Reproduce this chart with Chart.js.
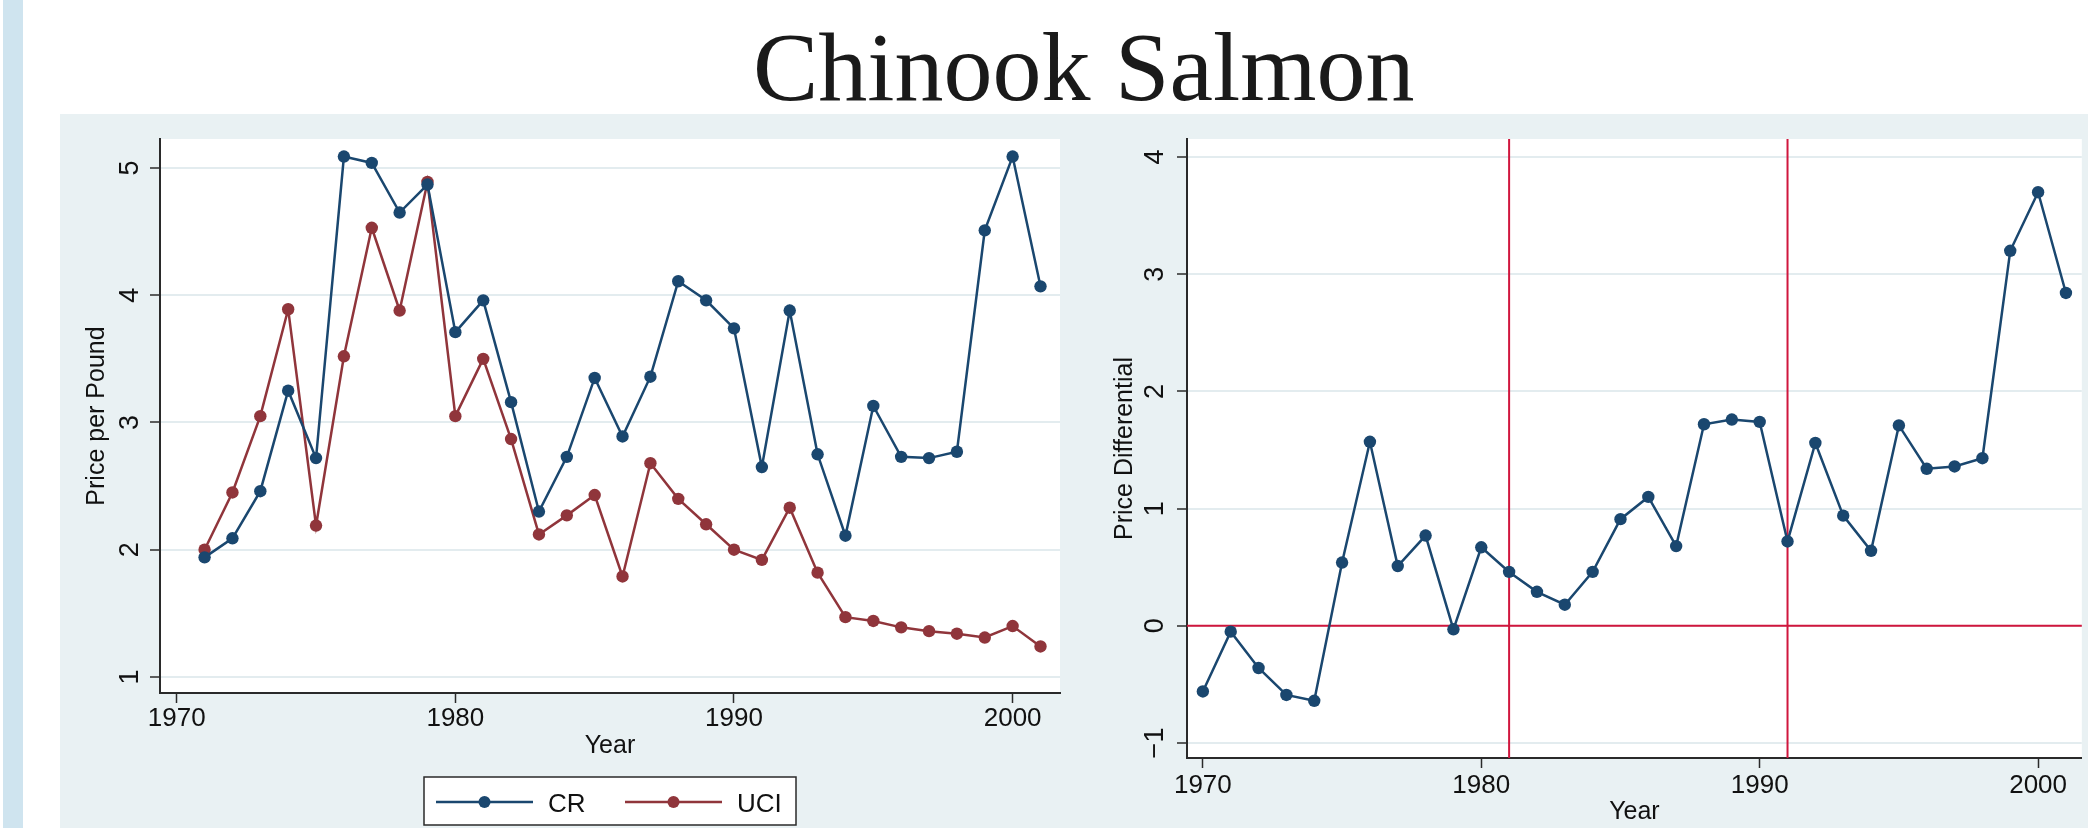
<!DOCTYPE html>
<html>
<head>
<meta charset="utf-8">
<title>Chinook Salmon</title>
<script src="https://cdn.jsdelivr.net/npm/chart.js@4.4.1/dist/chart.umd.min.js"></script>
<style>
  html, body { margin: 0; padding: 0; background: #fff; }
  body { width: 2088px; height: 828px; position: relative; overflow: hidden; }
  #strip { position: absolute; left: 3px; top: 0; width: 20px; height: 828px; background: #cfe4ef; }
  #title {
    position: absolute; left: 753px; top: 18px;
    font-family: "Liberation Serif", "Times New Roman", serif;
    font-size: 98px; line-height: 98px; color: #1a1a1a; white-space: nowrap;
  }
  #panel { position: absolute; left: 60px; top: 114px; width: 2028px; height: 714px; background: #e9f1f3; }
  canvas { position: absolute; top: 114px; }
  #priceChart { left: 60px; }
  #diffChart { left: 1095px; }
</style>
</head>
<body>
<div id="strip"></div>
<div id="title">Chinook Salmon</div>
<div id="panel"></div>
<canvas id="priceChart" width="1035" height="714"></canvas>
<canvas id="diffChart" width="993" height="714"></canvas>
<script>
// left panel: price per pound, 1971-2001
const priceYears = [1971, 1972, 1973, 1974, 1975, 1976, 1977, 1978, 1979, 1980,
  1981, 1982, 1983, 1984, 1985, 1986, 1987, 1988, 1989, 1990,
  1991, 1992, 1993, 1994, 1995, 1996, 1997, 1998, 1999, 2000, 2001];
const crPrice = [1.94, 2.09, 2.46, 3.25, 2.72, 5.09, 5.04, 4.65, 4.87, 3.71,
  3.96, 3.16, 2.30, 2.73, 3.35, 2.89, 3.36, 4.11, 3.96, 3.74,
  2.65, 3.88, 2.75, 2.11, 3.13, 2.73, 2.72, 2.77, 4.51, 5.09, 4.07];
const uciPrice = [2.00, 2.45, 3.05, 3.89, 2.19, 3.52, 4.53, 3.88, 4.89, 3.05,
  3.50, 2.87, 2.12, 2.27, 2.43, 1.79, 2.68, 2.40, 2.20, 2.00,
  1.92, 2.33, 1.82, 1.47, 1.44, 1.39, 1.36, 1.34, 1.31, 1.40, 1.24];

// right panel: price differential, 1970-2001
const diffYears = [1970, 1971, 1972, 1973, 1974, 1975, 1976, 1977, 1978, 1979,
  1980, 1981, 1982, 1983, 1984, 1985, 1986, 1987, 1988, 1989,
  1990, 1991, 1992, 1993, 1994, 1995, 1996, 1997, 1998, 1999, 2000, 2001];
const priceDiff = [-0.56, -0.05, -0.36, -0.59, -0.64, 0.54, 1.57, 0.51, 0.77, -0.03,
  0.67, 0.46, 0.29, 0.18, 0.46, 0.91, 1.10, 0.68, 1.72, 1.76,
  1.74, 0.72, 1.56, 0.94, 0.64, 1.71, 1.34, 1.36, 1.43, 3.20, 3.70, 2.84];

const yearTicks = [1970, 1980, 1990, 2000];
const priceTicks = [1, 2, 3, 4, 5];
const diffTicks = [-1, 0, 1, 2, 3, 4];
const refYears = [1981, 1991];
const refLevels = [0];

const navy = '#1a476f';
const maroon = '#90353b';
const refRed = '#d0163d';
const gridColor = '#e3ecef';
const axisColor = '#2a2a2a';
const textColor = '#111';
const family = '"Liberation Sans", Arial, sans-serif';

const toPoints = (xs, ys) => xs.map((x, i) => ({ x: x, y: ys[i] }));
const setTicks = values => scale => { scale.ticks = values.map(v => ({ value: v })); };
const fmt = v => (v < 0 ? '\u2212' + Math.abs(v) : String(v));

// white plot region on the grey graph region
const plotBg = {
  id: 'plotBg',
  beforeDraw(chart) {
    const { ctx, chartArea: a } = chart;
    ctx.save();
    ctx.fillStyle = '#fff';
    ctx.fillRect(a.left, a.top, a.right - a.left, a.bottom - a.top);
    ctx.restore();
  }
};

// stata style vertical y labels, centred on the tick
const yLabels = {
  id: 'yLabels',
  afterDraw(chart, args, opts) {
    const { ctx } = chart;
    const y = chart.scales.y;
    ctx.save();
    ctx.font = opts.size + 'px ' + family;
    ctx.fillStyle = textColor;
    ctx.textAlign = 'center';
    ctx.textBaseline = 'alphabetic';
    y.ticks.forEach(t => {
      ctx.save();
      ctx.translate(y.right - opts.gap, y.getPixelForValue(t.value));
      ctx.rotate(-Math.PI / 2);
      ctx.fillText(fmt(t.value), 0, 0);
      ctx.restore();
    });
    ctx.restore();
  }
};

const refLines = {
  id: 'refLines',
  beforeDatasetsDraw(chart, args, opts) {
    if (!opts.xs) return;
    const { ctx, chartArea: a } = chart;
    const { x, y } = chart.scales;
    ctx.save();
    ctx.strokeStyle = opts.color;
    ctx.lineWidth = opts.width;
    ctx.beginPath();
    opts.xs.forEach(v => {
      const px = x.getPixelForValue(v);
      ctx.moveTo(px, a.top);
      ctx.lineTo(px, a.bottom);
    });
    opts.ys.forEach(v => {
      const py = y.getPixelForValue(v);
      ctx.moveTo(a.left, py);
      ctx.lineTo(a.right, py);
    });
    ctx.stroke();
    ctx.restore();
  }
};

// boxed legend under the left plot: line with a marker in the middle
const stataLegend = {
  id: 'stataLegend',
  afterDraw(chart, args, opts) {
    if (!opts.show) return;
    const { ctx, chartArea: a } = chart;
    const w = 372, h = 48;
    const left = (a.left + a.right) / 2 - w / 2;
    const top = a.bottom + opts.offset;
    ctx.save();
    ctx.fillStyle = '#fff';
    ctx.fillRect(left, top, w, h);
    ctx.strokeStyle = axisColor;
    ctx.lineWidth = 1.5;
    ctx.strokeRect(left, top, w, h);
    const cy = top + 25;
    chart.data.datasets.forEach((ds, i) => {
      const x0 = left + 12 + i * 189;
      ctx.strokeStyle = ds.borderColor;
      ctx.lineWidth = 2.4;
      ctx.beginPath();
      ctx.moveTo(x0, cy);
      ctx.lineTo(x0 + 97, cy);
      ctx.stroke();
      ctx.fillStyle = ds.borderColor;
      ctx.beginPath();
      ctx.arc(x0 + 48.5, cy, 6, 0, Math.PI * 2);
      ctx.fill();
      ctx.fillStyle = textColor;
      ctx.font = '26px ' + family;
      ctx.textAlign = 'left';
      ctx.textBaseline = 'alphabetic';
      ctx.fillText(ds.label, x0 + 112, top + 35);
    });
    ctx.restore();
  }
};

function series(label, color, xs, ys) {
  return {
    label: label,
    data: toPoints(xs, ys),
    borderColor: color,
    backgroundColor: color,
    borderWidth: 2.5,
    pointRadius: 6.2,
    pointBorderWidth: 0,
    pointBackgroundColor: color,
    tension: 0
  };
}

function makeOptions(cfg) {
  return {
    responsive: false,
    animation: false,
    devicePixelRatio: 1,
    layout: { padding: { top: 25, right: cfg.padRight, left: 0, bottom: 0 } },
    plugins: {
      legend: { display: false },
      tooltip: { enabled: false },
      yLabels: { gap: cfg.labelGap, size: 27 },
      refLines: cfg.ref || {},
      stataLegend: cfg.legend || {}
    },
    scales: {
      x: {
        type: 'linear',
        min: cfg.xMin,
        max: cfg.xMax,
        afterBuildTicks: setTicks(yearTicks),
        afterFit: s => { s.height = cfg.xHeight; },
        grid: { drawOnChartArea: false, tickLength: 10, tickColor: axisColor, tickWidth: 1.5 },
        border: { color: axisColor, width: 2 },
        ticks: {
          color: textColor, font: { family: family, size: 26 }, padding: cfg.xTickPad, maxRotation: 0,
          callback: v => String(v)
        },
        title: { display: true, text: 'Year', color: textColor, font: { family: family, size: 25 }, padding: cfg.xTitlePad }
      },
      y: {
        type: 'linear',
        min: cfg.yMin,
        max: cfg.yMax,
        afterBuildTicks: setTicks(cfg.yTicks),
        afterFit: s => { s.width = cfg.yWidth; },
        grid: { color: gridColor, lineWidth: 2, tickLength: 10, tickColor: axisColor, tickWidth: 1.5 },
        border: { color: axisColor, width: 2 },
        ticks: { display: false },
        title: { display: true, text: cfg.yTitle, color: textColor, font: { family: family, size: 25 }, padding: cfg.yTitlePad }
      }
    }
  };
}

new Chart(document.getElementById('priceChart'), {
  type: 'line',
  data: {
    datasets: [
      series('CR', navy, priceYears, crPrice),
      series('UCI', maroon, priceYears, uciPrice)
    ]
  },
  options: makeOptions({
    padRight: 35, xMin: 1969.4, xMax: 2001.7, xHeight: 135, xTickPad: 0, xTitlePad: 67,
    yMin: 0.874, yMax: 5.228, yTicks: priceTicks, yWidth: 100, yTitle: 'Price per Pound', yTitlePad: 22,
    labelGap: 22,
    legend: { show: true, offset: 84 }
  }),
  plugins: [plotBg, yLabels, refLines, stataLegend]
});

new Chart(document.getElementById('diffChart'), {
  type: 'line',
  data: {
    datasets: [series('Price Differential', navy, diffYears, priceDiff)]
  },
  options: makeOptions({
    padRight: 1, xMin: 1969.43, xMax: 2001.57, xHeight: 70, xTickPad: 2, xTitlePad: 1,
    yMin: -1.128, yMax: 4.154, yTicks: diffTicks, yWidth: 92, yTitle: 'Price Differential', yTitlePad: 15,
    labelGap: 24,
    ref: { xs: refYears, ys: refLevels, color: refRed, width: 2 }
  }),
  plugins: [plotBg, yLabels, refLines, stataLegend]
});
</script>
</body>
</html>
